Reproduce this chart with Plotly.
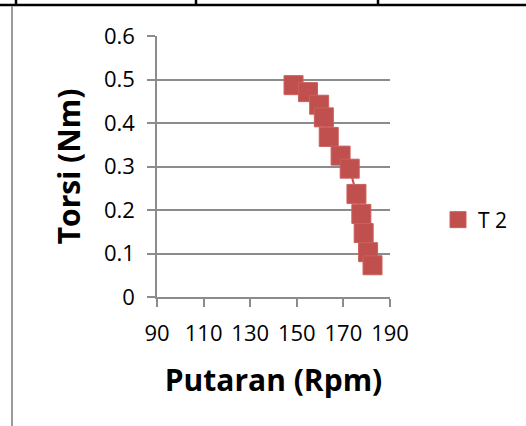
import plotly.graph_objects as go

# Data
putaran_rpm = [148.6, 154.8, 159.6, 161.6, 163.7, 168.8, 172.7, 175.6, 177.7, 178.7, 180.6, 182.5]
torsi_nm = [0.487, 0.471, 0.442, 0.413, 0.368, 0.325, 0.295, 0.237, 0.191, 0.147, 0.103, 0.073]
series_name = "T 2"
x_ticks = [90, 110, 130, 150, 170, 190]
y_ticks = [0, 0.1, 0.2, 0.3, 0.4, 0.5, 0.6]

W, H = 526, 426
L, R, T, B = 157, 136, 36, 129
PW = W - L - R
PH = H - T - B

def px_x(p):
    return (p - L) / PW

def px_y(p):
    return (H - B - p) / PH

red = "#C0504D"
grid = "#8C8C8C"

fig = go.Figure()
fig.add_trace(go.Scatter(
    x=putaran_rpm, y=torsi_nm, name=series_name,
    mode="lines", line=dict(color=red, width=2),
    showlegend=False, hoverinfo="skip",
))
fig.add_trace(go.Scatter(
    x=putaran_rpm, y=torsi_nm, name=series_name,
    mode="markers",
    marker=dict(symbol="square", size=19, color=red, line=dict(color="#CB5F5C", width=1)),
    showlegend=True,
))

shapes = []
# table border lines (document background)
shapes.append(dict(type="line", xref="paper", yref="paper",
                   x0=px_x(0), x1=px_x(W), y0=px_y(5), y1=px_y(5),
                   line=dict(color="black", width=2.5)))
for vx in [16, 196, 378]:
    shapes.append(dict(type="line", xref="paper", yref="paper",
                       x0=px_x(vx), x1=px_x(vx), y0=px_y(0), y1=px_y(5),
                       line=dict(color="black", width=2.5)))
shapes.append(dict(type="line", xref="paper", yref="paper",
                   x0=px_x(12), x1=px_x(12), y0=px_y(6), y1=px_y(H),
                   line=dict(color="#9A9A9A", width=2)))

tickfont = dict(size=22, family="Open Sans", color="black")

fig.update_layout(
    width=W, height=H,
    margin=dict(l=L, r=R, t=T, b=B, autoexpand=False),
    paper_bgcolor="white", plot_bgcolor="white",
    font=dict(family="Open Sans", color="black", size=22),
    shapes=shapes,
    legend=dict(x=px_x(438), y=px_y(220), xanchor="left", yanchor="middle",
                font=dict(size=21, family="Open Sans", color="black"),
                bgcolor="rgba(0,0,0,0)", itemwidth=30, tracegroupgap=0),
    xaxis=dict(
        range=[90, 190], tickvals=x_ticks, ticktext=[str(v) for v in x_ticks],
        tickangle=0, showgrid=False, zeroline=False,
        showline=True, linecolor=grid, linewidth=1.5,
        ticks="outside", ticklen=8, tickcolor=grid, tickwidth=1.5,
        ticklabelstandoff=8,
        tickfont=tickfont,
        title=dict(text="<b>Putaran (Rpm)</b>", font=dict(size=30, family="Open Sans", color="black"), standoff=24),
    ),
    yaxis=dict(
        range=[0, 0.6], tickvals=y_ticks, ticktext=["0", "0.1", "0.2", "0.3", "0.4", "0.5", "0.6"],
        showgrid=True, gridcolor=grid, gridwidth=1.5, zeroline=False,
        showline=True, linecolor=grid, linewidth=1.5,
        ticks="outside", ticklen=8, tickcolor=grid, tickwidth=1.5,
        ticklabelstandoff=8,
        tickfont=tickfont,
        title=dict(text="<b>Torsi (Nm)</b>", font=dict(size=30, family="Open Sans", color="black"), standoff=14),
    ),
)

fig.write_html("out.html")
